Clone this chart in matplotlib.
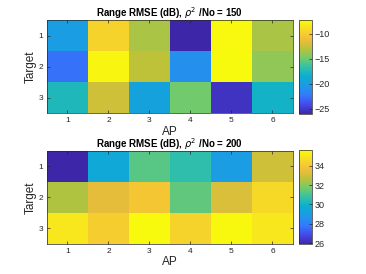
import numpy as np
import matplotlib
matplotlib.use('Agg')
import matplotlib.pyplot as plt
from matplotlib.colors import LinearSegmentedColormap

plt.rcParams['font.family'] = ['Liberation Sans', 'DejaVu Sans']

# data
aps = [1, 2, 3, 4, 5, 6]
targets = [1, 2, 3]
rmse_150 = [
    [-20.0, -9.5, -13.3, -26.0, -7.3, -13.3],
    [-22.5, -7.5, -12.8, -21.0, -7.2, -14.0],
    [-17.5, -12.2, -19.5, -14.8, -25.2, -18.0],
]
rmse_200 = [
    [25.9, 29.5, 31.3, 30.6, 29.0, 33.0],
    [32.5, 33.4, 34.0, 31.4, 33.2, 34.6],
    [35.0, 34.2, 35.6, 34.4, 35.5, 35.0],
]
snr_levels = [150, 200]

# rough parula
parula_pts = [
    (0.2422, 0.1504, 0.6603), (0.2691, 0.2868, 0.9240), (0.2052, 0.4796, 0.9880),
    (0.1157, 0.6038, 0.9022), (0.0418, 0.6822, 0.8215), (0.2071, 0.7540, 0.6551),
    (0.4549, 0.7962, 0.4136), (0.7399, 0.7620, 0.2241), (0.9599, 0.7384, 0.2315),
    (0.9681, 0.8563, 0.1497), (0.9763, 0.9831, 0.0538),
]
parula = LinearSegmentedColormap.from_list('parula', parula_pts, N=256)

fig = plt.figure(figsize=(3.66, 2.74), dpi=100)
axes_pos = [[0.1284, 0.5876, 0.672, 0.339], [0.1284, 0.1106, 0.672, 0.339]]
cb_pos = [[0.817, 0.584, 0.0355, 0.343], [0.817, 0.109, 0.0355, 0.343]]

for data, snr, apos, cpos in zip([rmse_150, rmse_200], snr_levels, axes_pos, cb_pos):
    ax = fig.add_axes(apos)
    arr = np.array(data)
    im = ax.imshow(arr, cmap=parula, aspect='auto', interpolation='nearest',
                   extent=[0.5, 6.5, 3.5, 0.5])
    ax.set_xticks(aps)
    ax.set_yticks(targets)
    ax.tick_params(direction='in', length=2, width=0.5, labelsize=6,
                   top=True, right=True, colors='#262626', pad=3)
    for s in ax.spines.values():
        s.set_color('#262626')
        s.set_linewidth(0.5)
    ax.set_xlabel('AP', fontsize=8.5, color='#262626', labelpad=1)
    ax.set_ylabel('Target', fontsize=8.5, color='#262626', labelpad=1)
    ax.set_title(r'Range RMSE (dB), $\rho^2$ /No = %d' % snr, fontsize=7,
                 fontweight='bold', pad=2)

    cax = fig.add_axes(cpos)
    cb = fig.colorbar(im, cax=cax)
    cb.outline.set_linewidth(0.5)
    cb.outline.set_edgecolor('#262626')
    cax.tick_params(direction='in', length=2, width=0.5, labelsize=6.5,
                    colors='#262626', pad=2)

fig.savefig('out.png', dpi=100)
